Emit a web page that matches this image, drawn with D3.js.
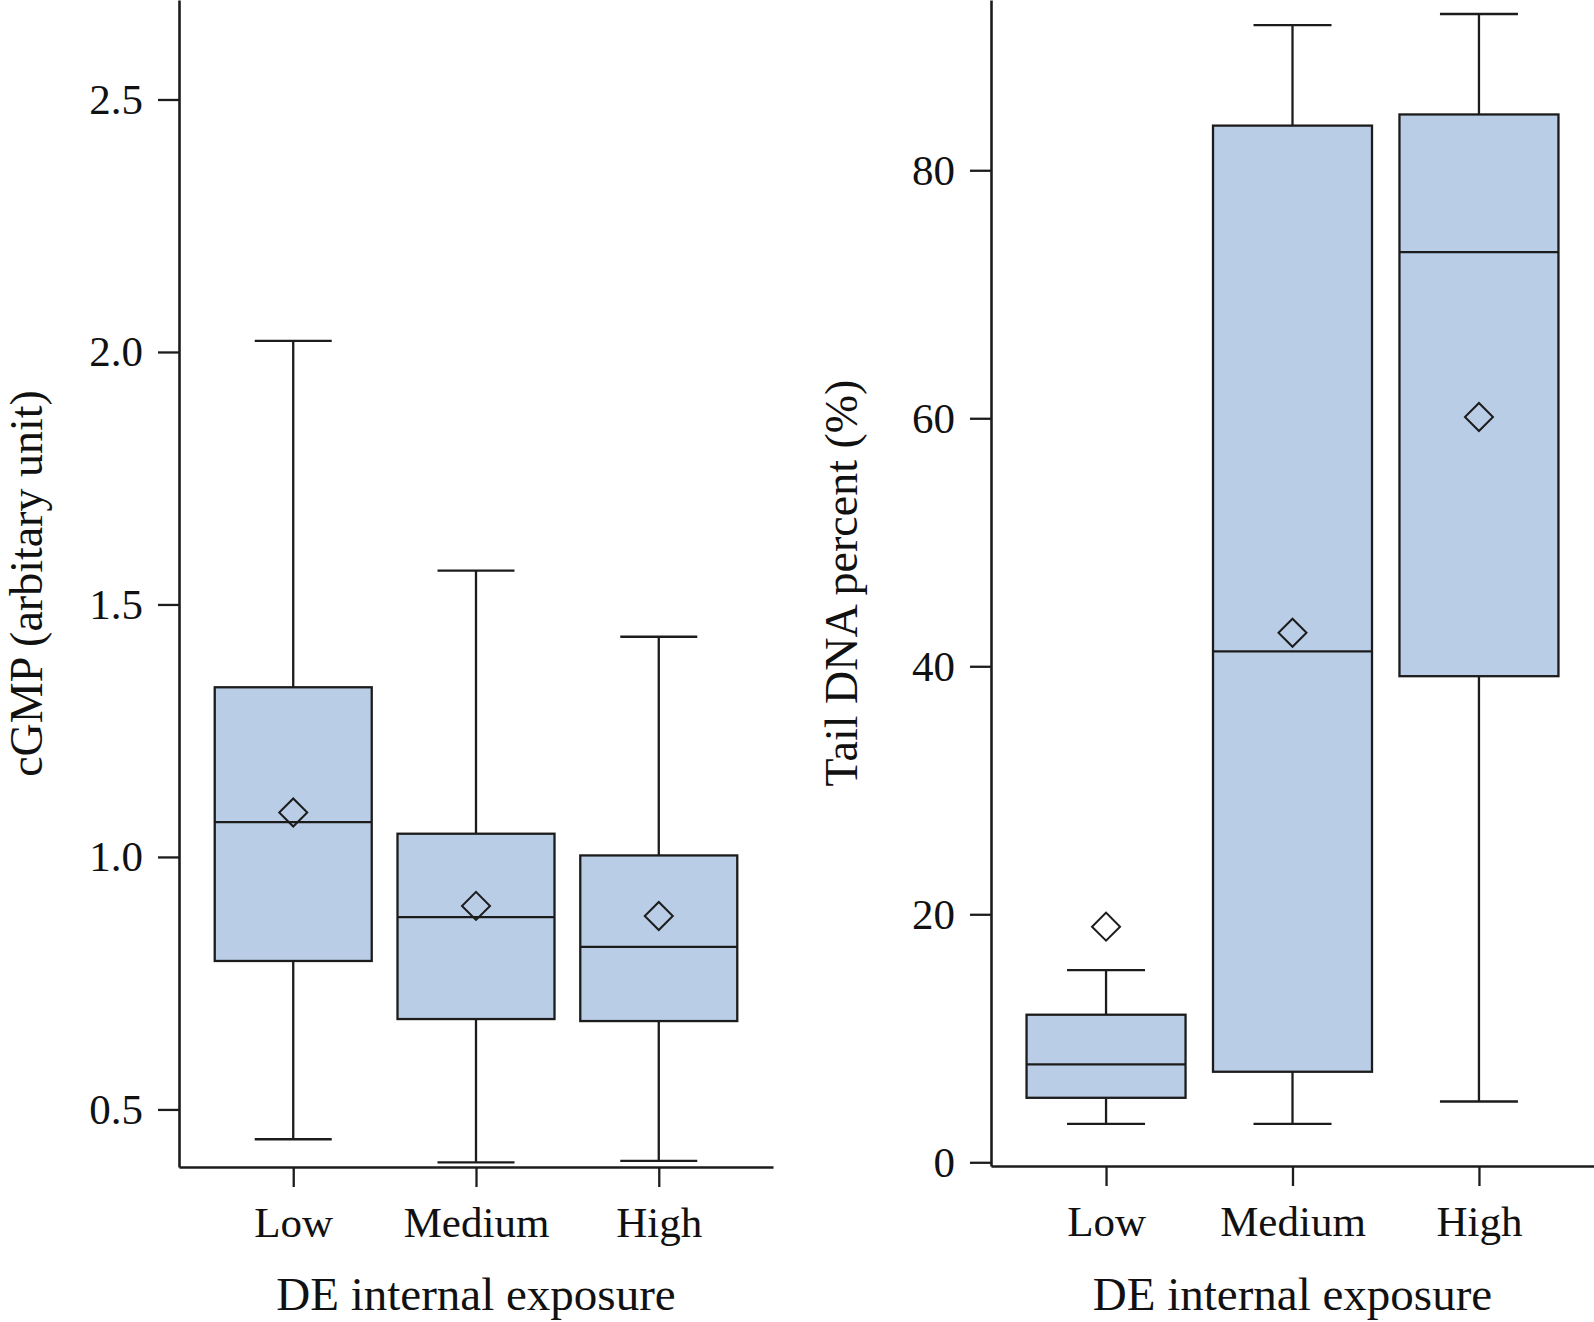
<!DOCTYPE html>
<html>
<head>
<meta charset="utf-8">
<script src="https://cdn.jsdelivr.net/npm/d3@7"></script>
<style>
  html, body { margin: 0; padding: 0; background: #fff; }
  svg { display: block; }
  text { font-family: "Liberation Serif", "Times New Roman", serif; fill: #111; }
</style>
</head>
<body>
<div id="chart"></div>
<script>
var groups = ["Low", "Medium", "High"];

// left panel: cGMP
var cgmpLowWhisker  = [0.441, 0.395, 0.398];
var cgmpQ1          = [0.794, 0.679, 0.675];
var cgmpMedian      = [1.069, 0.881, 0.822];
var cgmpQ3          = [1.336, 1.046, 1.003];
var cgmpHighWhisker = [2.022, 1.567, 1.436];
var cgmpMean        = [1.088, 0.903, 0.883];
var cgmpTicks       = [0.5, 1.0, 1.5, 2.0, 2.5];

// right panel: Tail DNA percent
var tailLowWhisker  = [3.1, 3.1, 4.9];
var tailQ1          = [5.2, 7.3, 39.2];
var tailMedian      = [7.9, 41.2, 73.4];
var tailQ3          = [11.9, 83.6, 84.5];
var tailHighWhisker = [15.5, 91.7, 92.6];
var tailMean        = [19.0, 42.7, 60.1];
var tailTicks       = [0, 20, 40, 60, 80];

var width = 1594, height = 1322;
var boxFill = "#b9cde6", ink = "#1c1c1c";

var svg = d3.select("#chart").append("svg")
    .attr("width", width)
    .attr("height", height);

function panel(opts) {
    var x = d3.scalePoint()
        .domain(groups)
        .range([opts.left, opts.right])
        .padding(opts.pad);

    var y = d3.scaleLinear()
        .domain(opts.domain)
        .range([opts.bottom, 0]);

    var g = svg.append("g");

    var stats = groups.map(function(name, i) {
        return {
            name: name,
            lo: opts.lo[i], q1: opts.q1[i], med: opts.med[i],
            q3: opts.q3[i], hi: opts.hi[i], mean: opts.mean[i]
        };
    });

    var box = g.selectAll(".box")
        .data(stats)
        .enter()
        .append("g")
        .attr("class", "box")
        .attr("stroke", ink)
        .attr("stroke-width", 2.3)
        .attr("fill", "none");

    // whiskers
    box.append("line")
        .attr("x1", d => x(d.name)).attr("x2", d => x(d.name))
        .attr("y1", d => y(d.hi)).attr("y2", d => y(d.q3));
    box.append("line")
        .attr("x1", d => x(d.name)).attr("x2", d => x(d.name))
        .attr("y1", d => y(d.q1)).attr("y2", d => y(d.lo));
    box.append("line")
        .attr("x1", d => x(d.name) - opts.cap / 2).attr("x2", d => x(d.name) + opts.cap / 2)
        .attr("y1", d => y(d.hi)).attr("y2", d => y(d.hi));
    box.append("line")
        .attr("x1", d => x(d.name) - opts.cap / 2).attr("x2", d => x(d.name) + opts.cap / 2)
        .attr("y1", d => y(d.lo)).attr("y2", d => y(d.lo));

    // box
    box.append("rect")
        .attr("x", d => x(d.name) - opts.boxW / 2)
        .attr("width", opts.boxW)
        .attr("y", d => y(d.q3))
        .attr("height", d => y(d.q1) - y(d.q3))
        .attr("fill", boxFill);

    // median
    box.append("line")
        .attr("x1", d => x(d.name) - opts.boxW / 2).attr("x2", d => x(d.name) + opts.boxW / 2)
        .attr("y1", d => y(d.med)).attr("y2", d => y(d.med));

    // mean diamond
    box.append("path")
        .attr("d", d3.symbol(d3.symbolSquare, 392))
        .attr("transform", d => "translate(" + x(d.name) + "," + y(d.mean) + ") rotate(45)")
        .attr("stroke-width", 2);

    // axes
    var yAxis = g.append("g")
        .attr("transform", "translate(" + opts.left + ",0)")
        .call(d3.axisLeft(y)
            .tickValues(opts.ticks)
            .tickFormat(opts.fmt)
            .tickSize(21)
            .tickSizeOuter(0)
            .tickPadding(15));

    var xAxis = g.append("g")
        .attr("transform", "translate(0," + opts.bottom + ")")
        .call(d3.axisBottom(x)
            .tickSize(20)
            .tickSizeOuter(0)
            .tickPadding(19));

    [yAxis, xAxis].forEach(function(a) {
        a.select(".domain").attr("stroke", ink).attr("stroke-width", 2.6);
        a.selectAll(".tick line").attr("stroke", ink).attr("stroke-width", 2.3);
        a.selectAll(".tick text")
            .style("font-family", "'Liberation Serif', 'Times New Roman', serif")
            .style("font-size", "43px")
            .attr("fill", "#111");
    });

    // titles
    g.append("text")
        .attr("x", (opts.left + opts.right) / 2)
        .attr("y", 1310)
        .attr("text-anchor", "middle")
        .style("font-size", "47px")
        .text("DE internal exposure");

    g.append("text")
        .attr("transform", "translate(" + opts.titleX + "," + (opts.bottom / 2) + ") rotate(-90)")
        .attr("text-anchor", "middle")
        .style("font-size", "46px")
        .text(opts.title);
}

panel({
    left: 179, right: 773, bottom: 1167, pad: 0.625,
    domain: [0.386, 2.697],
    lo: cgmpLowWhisker, q1: cgmpQ1, med: cgmpMedian, q3: cgmpQ3, hi: cgmpHighWhisker, mean: cgmpMean,
    ticks: cgmpTicks, fmt: d3.format(".1f"),
    boxW: 157, cap: 77,
    titleX: 42, title: "cGMP (arbitary unit)"
});

panel({
    left: 991, right: 1594, bottom: 1166, pad: 0.617,
    domain: [-0.3, 93.73],
    lo: tailLowWhisker, q1: tailQ1, med: tailMedian, q3: tailQ3, hi: tailHighWhisker, mean: tailMean,
    ticks: tailTicks, fmt: d3.format("d"),
    boxW: 159, cap: 78,
    titleX: 857, title: "Tail DNA percent (%)"
});
</script>
</body>
</html>
